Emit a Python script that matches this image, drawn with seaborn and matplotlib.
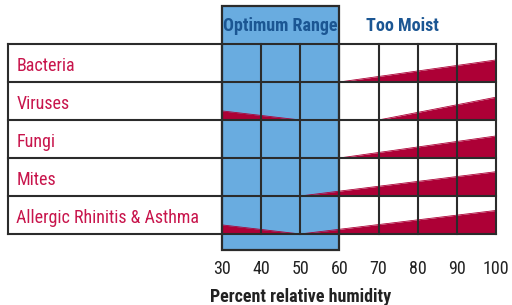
import numpy as np
import pandas as pd
import matplotlib
matplotlib.use("Agg")
import matplotlib.pyplot as plt
from matplotlib.patches import Rectangle
import seaborn as sns

# data
categories = ["Bacteria", "Viruses", "Fungi", "Mites", "Allergic Rhinitis & Asthma"]
dry_height = [0.0, 0.24, 0.0, 0.0, 0.24]      # wedge height at 30 %, falls to 0 at dry_end
dry_end = 50
rise_start = [60, 70, 60, 50, 50]              # humidity where the moist wedge begins
rise_height = [0.58, 0.60, 0.58, 0.64, 0.62]   # wedge height at 100 %
humidity_ticks = [30, 40, 50, 60, 70, 80, 90, 100]
optimum = (30, 60)

RED = "#ad0036"
LABEL = "#c8154c"
BLUE = "#69ace0"
NAVY = "#1b5693"
LINE = "#2b2b2b"

sns.set_theme(style="white")
plt.rcParams["font.family"] = ["Roboto Condensed", "DejaVu Sans"]

fig = plt.figure(figsize=(5.12, 3.05), dpi=100)
ax = fig.add_axes([0, 55 / 305, 1, 250 / 305])
ax.set_xlim(-26.7, 104.1)
ax.set_ylim(-0.421, 6.158)
for s in ax.spines.values():
    s.set_visible(False)

n = len(categories)
left_edge = -24.7

# optimum range box
ax.add_patch(Rectangle((optimum[0], -0.421), optimum[1] - optimum[0], 6.421,
                       facecolor=BLUE, edgecolor="none", zorder=1))

# wedges
rows = []
for i, cat in enumerate(categories):
    base = n - 1 - i
    if dry_height[i] > 0:
        xs = np.array([humidity_ticks[0], dry_end])
        ys = np.array([base + dry_height[i], base])
        ax.fill_between(xs, base, ys, color=RED, linewidth=0, zorder=2)
        rows.append(pd.DataFrame({"x": xs, "y": ys, "seg": f"{cat} dry"}))
    xs = np.array([rise_start[i], humidity_ticks[-1]])
    ys = np.array([base, base + rise_height[i]])
    ax.fill_between(xs, base, ys, color=RED, linewidth=0, zorder=2)
    rows.append(pd.DataFrame({"x": xs, "y": ys, "seg": f"{cat} moist"}))
    ax.text(-22.5, base + 0.43, cat, color=LABEL, fontsize=13,
            ha="left", va="center", zorder=5)

edges = pd.concat(rows)
sns.lineplot(data=edges, x="x", y="y", units="seg", estimator=None,
             color=RED, linewidth=0.6, ax=ax, zorder=2, legend=False)

# table grid
for y in range(n + 1):
    ax.plot([left_edge, humidity_ticks[-1]], [y, y], color=LINE, lw=1.5, zorder=3,
            solid_capstyle="projecting")
for x in [left_edge] + humidity_ticks:
    ax.plot([x, x], [0, n], color=LINE, lw=1.5, zorder=3, solid_capstyle="projecting")

ax.add_patch(Rectangle((optimum[0], -0.421), optimum[1] - optimum[0], 6.421,
                       facecolor="none", edgecolor=LINE, lw=1.6, zorder=4, clip_on=False))

ax.text(sum(optimum) / 2, 5.48, "Optimum Range", color=NAVY, fontsize=13,
        fontweight="bold", ha="center", va="center")
ax.text(76.2, 5.48, "Too Moist", color=NAVY, fontsize=13,
        fontweight="bold", ha="center", va="center")

ax.set_xticks(humidity_ticks)
ax.set_xticklabels([str(t) for t in humidity_ticks])
ax.set_yticks([])
ax.tick_params(axis="x", length=0, pad=7, labelsize=13, colors="#222222")
ax.set_xlabel("Percent relative humidity", fontsize=13, fontweight="bold",
              color="#222222")
ax.xaxis.set_label_coords(0.588, -0.15)
ax.set_ylabel("")

fig.savefig("out.png", dpi=100)
